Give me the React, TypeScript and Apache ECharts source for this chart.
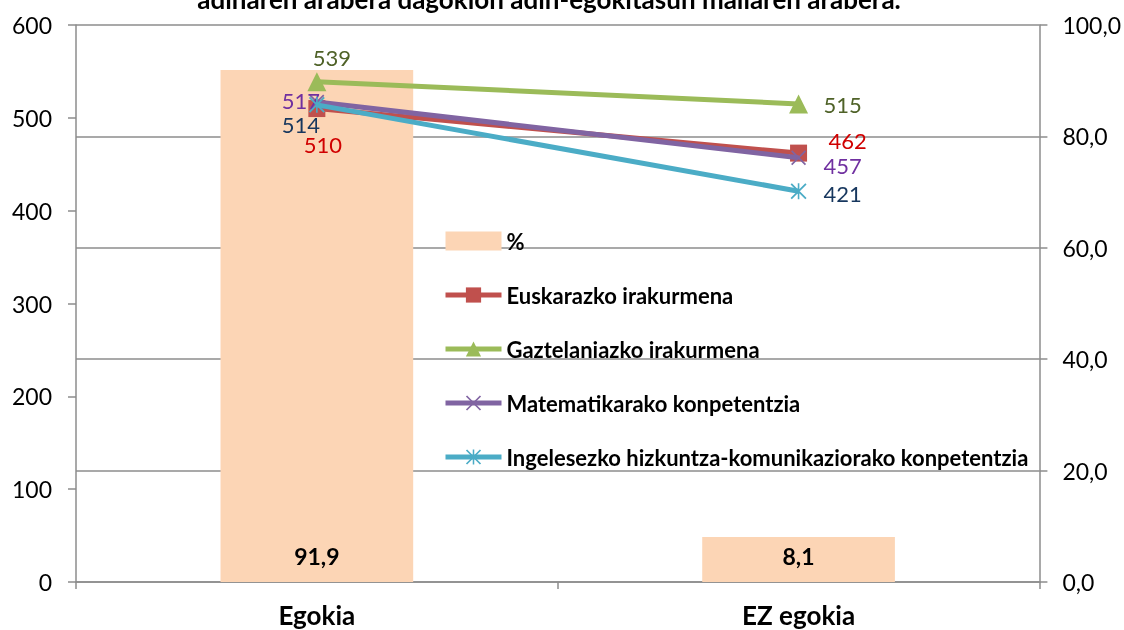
import React, { useEffect, useRef } from 'react';
import * as echarts from 'echarts';

const categories = ['Egokia', 'EZ egokia'];
const percentValues = [91.9, 8.1];
const euskarazko = [510, 462];
const gaztelaniazko = [539, 515];
const matematika = [517, 457];
const ingelesezko = [514, 421];
const seriesNames = [
  '%',
  'Euskarazko irakurmena',
  'Gaztelaniazko irakurmena',
  'Matematikarako konpetentzia',
  'Ingelesezko hizkuntza-komunikaziorako konpetentzia',
];
const titleText = 'adinaren arabera dagokion adin-egokitasun mailaren arabera.';

const FONT = 'Lato, "Noto Sans", sans-serif';
const fmtComma = (v: number) => v.toFixed(1).replace('.', ',');

const STAR_PATH =
  'path://M9 0L11 0L11 20L9 20Z M0 1.6L1.6 0L20 18.4L18.4 20Z M18.4 0L20 1.6L1.6 20L0 18.4Z';
const X_PATH = 'path://M0 1.6L1.6 0L20 18.4L18.4 20Z M18.4 0L20 1.6L1.6 20L0 18.4Z';

function lineSeries(
  name: string,
  values: number[],
  color: string,
  symbol: string,
  symbolSize: number,
  labelColor: string,
  offsets: number[][],
  z: number
) {
  return {
    type: 'line',
    name,
    yAxisIndex: 0,
    z,
    data: values.map((v, i) => ({ value: v, label: { offset: offsets[i] } })),
    symbol,
    symbolSize,
    showAllSymbol: true,
    lineStyle: { color, width: 5 },
    itemStyle: { color, borderWidth: 0 },
    label: {
      show: true,
      position: 'inside',
      color: labelColor,
      fontSize: 22,
      fontFamily: FONT,
    },
  };
}

export default function App() {
  const ref = useRef<HTMLDivElement>(null);
  useEffect(() => {
    if (!ref.current) return;
    const chart = echarts.init(ref.current, undefined, { renderer: 'svg' });
    const axisGray = '#8c8c8c';
    chart.setOption({
      animation: false,
      textStyle: { fontFamily: FONT },
      grid: { left: 76, right: 84, top: 25, bottom: 48, containLabel: false },
      graphic: [
        {
          type: 'text',
          x: 549,
          y: 12,
          style: {
            text: titleText,
            textAlign: 'center',
            textVerticalAlign: 'bottom',
            font: 'bold 26px Lato',
            fill: '#000',
          },
        },
      ],
      legend: {
        orient: 'vertical',
        left: 443,
        top: 230,
        padding: 0,
        itemWidth: 56,
        itemHeight: 19,
        itemGap: 32,
        lineStyle: { width: 5 },
        textStyle: { fontSize: 22, fontWeight: 'bold', color: '#000', fontFamily: FONT, lineHeight: 22 },
        data: [
          { name: seriesNames[0], icon: 'rect', itemStyle: { color: '#FCD5B5' } },
          seriesNames[1],
          seriesNames[2],
          seriesNames[3],
          seriesNames[4],
        ],
      },
      xAxis: {
        type: 'category',
        data: categories,
        boundaryGap: true,
        axisLine: { show: true, lineStyle: { color: axisGray, width: 1.5 } },
        axisTick: { show: true, alignWithLabel: false, length: 7, lineStyle: { color: axisGray, width: 1.5 } },
        axisLabel: { fontSize: 26, fontWeight: 'bold', color: '#000', margin: 20, fontFamily: FONT },
      },
      yAxis: [
        {
          type: 'value',
          position: 'left',
          min: 0,
          max: 600,
          interval: 100,
          axisLine: { show: true, lineStyle: { color: axisGray, width: 1.5 } },
          axisTick: { show: true, length: 8, lineStyle: { color: axisGray, width: 1.5 } },
          axisLabel: { fontSize: 23, color: '#000', margin: 24, fontFamily: FONT },
          splitLine: { show: false },
        },
        {
          type: 'value',
          position: 'right',
          min: 0,
          max: 100,
          interval: 20,
          axisLine: { show: true, lineStyle: { color: axisGray, width: 1.5 } },
          axisTick: { show: true, length: 8, lineStyle: { color: axisGray, width: 1.5 } },
          axisLabel: { fontSize: 23, color: '#000', margin: 23, fontFamily: FONT, formatter: fmtComma },
          splitLine: { show: true, lineStyle: { color: axisGray, width: 1.5 } },
        },
      ],
      series: [
        {
          type: 'bar',
          name: seriesNames[0],
          yAxisIndex: 1,
          data: percentValues,
          barWidth: '40%',
          itemStyle: { color: '#FCD5B5' },
          z: 1,
          label: {
            show: true,
            position: 'insideBottom',
            distance: 15,
            fontSize: 23,
            fontWeight: 'bold',
            color: '#000',
            fontFamily: FONT,
            formatter: (p: any) => fmtComma(p.value),
          },
        },
        lineSeries(seriesNames[1], euskarazko, '#C0504D', 'rect', 17, '#D00000', [[6, 36], [49, -13]], 3),
        lineSeries(seriesNames[2], gaztelaniazko, '#9BBB59', 'triangle', 19, '#4F6228', [[15, -24], [44, 1]], 4),
        lineSeries(seriesNames[3], matematika, '#8064A2', X_PATH, 15, '#7030A0', [[-16, -2], [44, 8]], 5),
        lineSeries(seriesNames[4], ingelesezko, '#4BACC6', STAR_PATH, 16, '#17375E', [[-16, 20], [44, 2]], 6),
      ],
    });
    return () => chart.dispose();
  }, []);
  return (
    <div
      ref={ref}
      style={{ position: 'fixed', left: 0, top: 0, width: 1124, height: 630 }}
    />
  );
}
